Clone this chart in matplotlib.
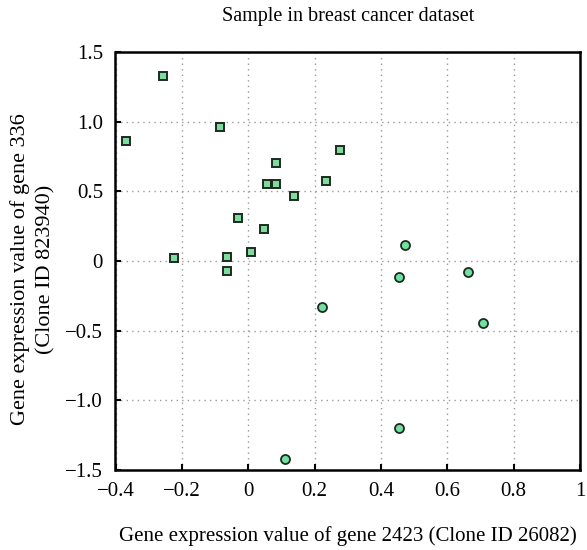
import matplotlib.pyplot as plt
import numpy as np

plt.rcParams["font.family"] = ["Liberation Serif", "DejaVu Serif"]

# squares (first group) and circles (second group)
sq_x = [-0.369, -0.258, -0.223, -0.084, -0.065, -0.063, -0.032, 0.009,
        0.047, 0.057, 0.085, 0.085, 0.138, 0.233, 0.276]
sq_y = [0.858, 1.326, 0.019, 0.962, 0.031, -0.07, 0.307, 0.067,
        0.23, 0.556, 0.556, 0.705, 0.463, 0.571, 0.80]
ci_x = [0.473, 0.454, 0.663, 0.221, 0.709, 0.454, 0.111]
ci_y = [0.113, -0.115, -0.081, -0.329, -0.444, -1.199, -1.42]

x_ticks = [-0.4, -0.2, 0, 0.2, 0.4, 0.6, 0.8, 1.0]
x_labels = ["\u22120.4", "\u22120.2", "0", "0.2", "0.4", "0.6", "0.8", "1"]
y_ticks = [-1.5, -1.0, -0.5, 0, 0.5, 1.0, 1.5]
y_labels = ["\u22121.5", "\u22121.0", "\u22120.5", "0", "0.5", "1.0", "1.5"]

fig = plt.figure(figsize=(5.87, 5.5), dpi=100)
ax = fig.add_axes([115.5 / 587, 80 / 550, (580 - 115.5) / 587, (470 - 52) / 550])

ax.plot(sq_x, sq_y, "s", markersize=5.5, markerfacecolor="#7ddc9c",
        markeredgecolor="#1c2b22", markeredgewidth=1.4, linestyle="none")
ax.plot(ci_x, ci_y, "o", markersize=6.5, markerfacecolor="#72e09e",
        markeredgecolor="#1c2b22", markeredgewidth=1.3, linestyle="none")

ax.set_xlim(-0.4, 1.0)
ax.set_ylim(-1.5, 1.5)
ax.set_xticks(x_ticks)
ax.set_xticklabels(x_labels)
ax.set_yticks(y_ticks)
ax.set_yticklabels(y_labels)
ax.tick_params(direction="in", length=4, width=1.5, labelsize=15, pad=9)
ax.grid(True, color="#999999", linestyle=(0, (1, 3)), linewidth=1)
for s in ax.spines.values():
    s.set_linewidth(1.8)

ax.set_title("Sample in breast cancer dataset", fontsize=14.5, pad=22)
ax.set_xlabel("Gene expression value of gene 2423 (Clone ID 26082)", fontsize=15, labelpad=18)
ax.set_ylabel("Gene expression value of gene 336\n(Clone ID 823940)", fontsize=16,
              linespacing=1.4)
ax.yaxis.set_label_coords(-0.13, 0.48)

fig.savefig("out.png", dpi=100)
